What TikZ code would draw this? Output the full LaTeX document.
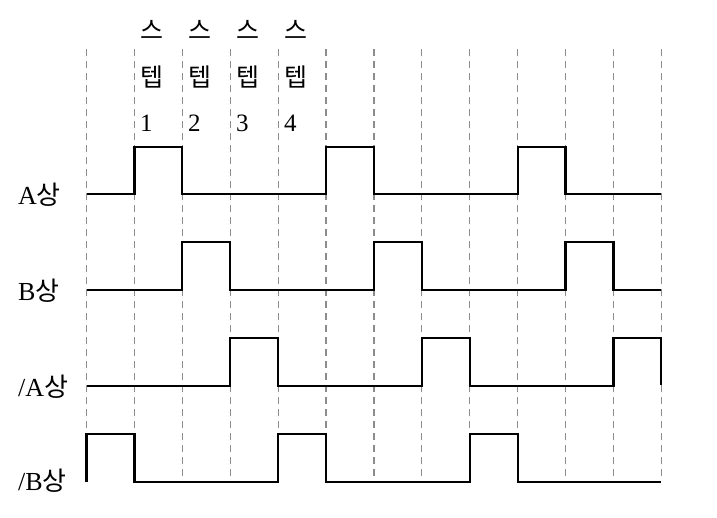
\documentclass[tikz,border=0pt]{standalone}
\usepackage{fontspec}
\setmainfont{Liberation Serif}
\newfontfamily\kr{Noto Sans CJK KR}
\usepackage{tikz}
\tikzstyle{grid} = [gray!90, line width=1.2pt, dash pattern=on 7pt off 5pt]
\tikzstyle{wave} = [black, line width=2.2pt, line join=miter]
\tikzstyle{phase} = [anchor=base west, inner sep=0pt, font=\fontsize{26}{26}\selectfont]
\tikzstyle{steplabel} = [anchor=base west, inner sep=0pt, font=\fontsize{25}{25}\selectfont]

\begin{document}
\begin{tikzpicture}[x=1pt, y=-1pt]
  \useasboundingbox (0,0) rectangle (717,517);

  % step labels
  \foreach \n in {1,2,3,4} {
    \node (s\n) [steplabel] at ({140+48*(\n-1)}, 39) {\kr 스};
    \node (t\n) [steplabel] at ({140+48*(\n-1)}, 86) {\kr 텝};
    \node (d\n) [steplabel] at ({140+48*(\n-1)}, 131) {\n};
  }

  % phase labels
  \node (pa) [phase] at (18,204) {A{\kr 상}};
  \node (pb) [phase] at (18,300) {B{\kr 상}};
  \node (pna) [phase] at (18,396) {/A{\kr 상}};
  \node (pnb) [phase] at (18,490) {/B{\kr 상}};

  \begin{scope}[x=47.9pt, xshift=86.5pt]
    % step boundaries
    \foreach \i in {0,...,12}
      \draw [grid] (\i,49) -- (\i,477);

    % A
    \draw [wave] (0,194) -- (1,194) -- (1,147) -- (2,147) -- (2,194) -- (5,194) -- (5,147) -- (6,147) -- (6,194)
      -- (9,194) -- (9,147) -- (10,147) -- (10,194) -- (12,194);
    % B
    \draw [wave] (0,290) -- (2,290) -- (2,242) -- (3,242) -- (3,290) -- (6,290) -- (6,242) -- (7,242) -- (7,290)
      -- (10,290) -- (10,242) -- (11,242) -- (11,290) -- (12,290);
    % /A
    \draw [wave] (0,386) -- (3,386) -- (3,338) -- (4,338) -- (4,386) -- (7,386) -- (7,338) -- (8,338) -- (8,386)
      -- (11,386) -- (11,338) -- (12,338) -- (12,385);
    % /B
    \draw [wave] (0,482) -- (0,434) -- (1,434) -- (1,482) -- (4,482) -- (4,434) -- (5,434) -- (5,482)
      -- (8,482) -- (8,434) -- (9,434) -- (9,482) -- (12,482);
  \end{scope}
\end{tikzpicture}
\end{document}
